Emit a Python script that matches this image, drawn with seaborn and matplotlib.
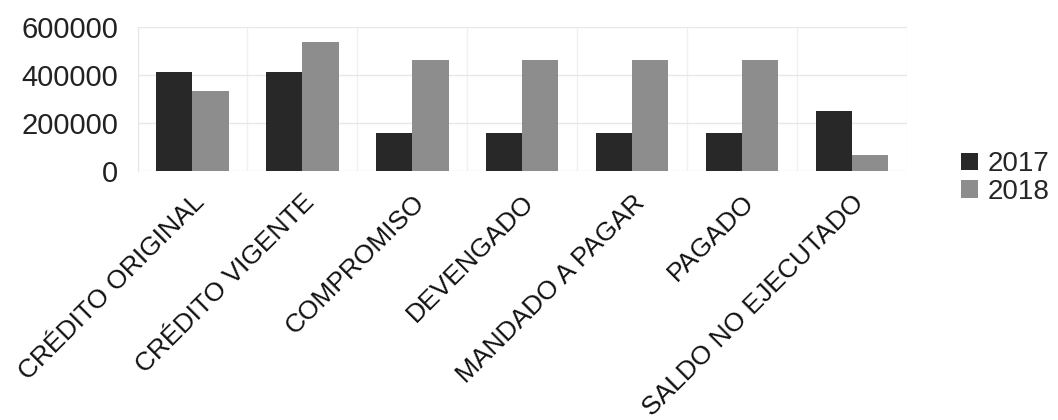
import numpy as np, pandas as pd, matplotlib
matplotlib.use('Agg')
import matplotlib.pyplot as plt
from matplotlib.ticker import FixedLocator
import seaborn as sb

sb.set_style('white')
plt.rcParams['font.family'] = ['Liberation Sans', 'DejaVu Sans']

# data
categorias = ['CRÉDITO ORIGINAL', 'CRÉDITO VIGENTE', 'COMPROMISO', 'DEVENGADO',
              'MANDADO A PAGAR', 'PAGADO', 'SALDO NO EJECUTADO']
v2017 = [412500, 412500, 158000, 158000, 158000, 158000, 250000]
v2018 = [333000, 537500, 462500, 462500, 462500, 462500, 67000]
anios = ['2017', '2018']
yticks = [0, 200000, 400000, 600000]

df = pd.DataFrame({'cat': categorias * 2,
                   'valor': v2017 + v2018,
                   'anio': [anios[0]] * len(categorias) + [anios[1]] * len(categorias)})

fig = plt.figure(figsize=(10.58, 4.2), dpi=100)
ax = fig.add_axes([0.130, 0.593, 0.727, 0.343])

sb.barplot(data=df, x='cat', y='valor', hue='anio', order=categorias,
           palette=['#282828', '#8d8d8d'], width=0.66, saturation=1,
           edgecolor='none', ax=ax)

ax.set_xlim(-0.5, len(categorias) - 0.5)
ax.set_ylim(0, 600000)
ax.set_yticks(yticks)
ax.set_yticklabels([str(t) for t in yticks], fontsize=21, color='#222222')
ax.tick_params(axis='y', length=0, pad=14)
ax.set_xlabel('')
ax.set_ylabel('')

ax.set_xticks(range(len(categorias)))
ax.set_xticklabels(categorias, rotation=45, ha='right', rotation_mode='anchor',
                   fontsize=19, color='#111111')
ax.tick_params(axis='x', which='major', length=0, pad=14)
ax.xaxis.set_minor_locator(FixedLocator(np.arange(-0.5, len(categorias), 1)))
ax.tick_params(axis='x', which='minor', length=12, color='#e6e6e6', width=1)

ax.grid(axis='y', color='#e8e8e8', linewidth=1)
ax.grid(axis='x', which='minor', color='#f0f0f0', linewidth=1)
ax.set_axisbelow(True)
for s in ['top', 'right', 'bottom']:
    ax.spines[s].set_visible(False)
ax.spines['left'].set_color('#e6e6e6')

handles, labels = ax.get_legend_handles_labels()
ax.legend(handles, labels, loc='center left', bbox_to_anchor=(1.056, -0.05),
          frameon=False, fontsize=20, handlelength=0.6, handleheight=0.6,
          handletextpad=0.35, labelspacing=0.05, borderaxespad=0)

fig.savefig('out.png', dpi=100)
